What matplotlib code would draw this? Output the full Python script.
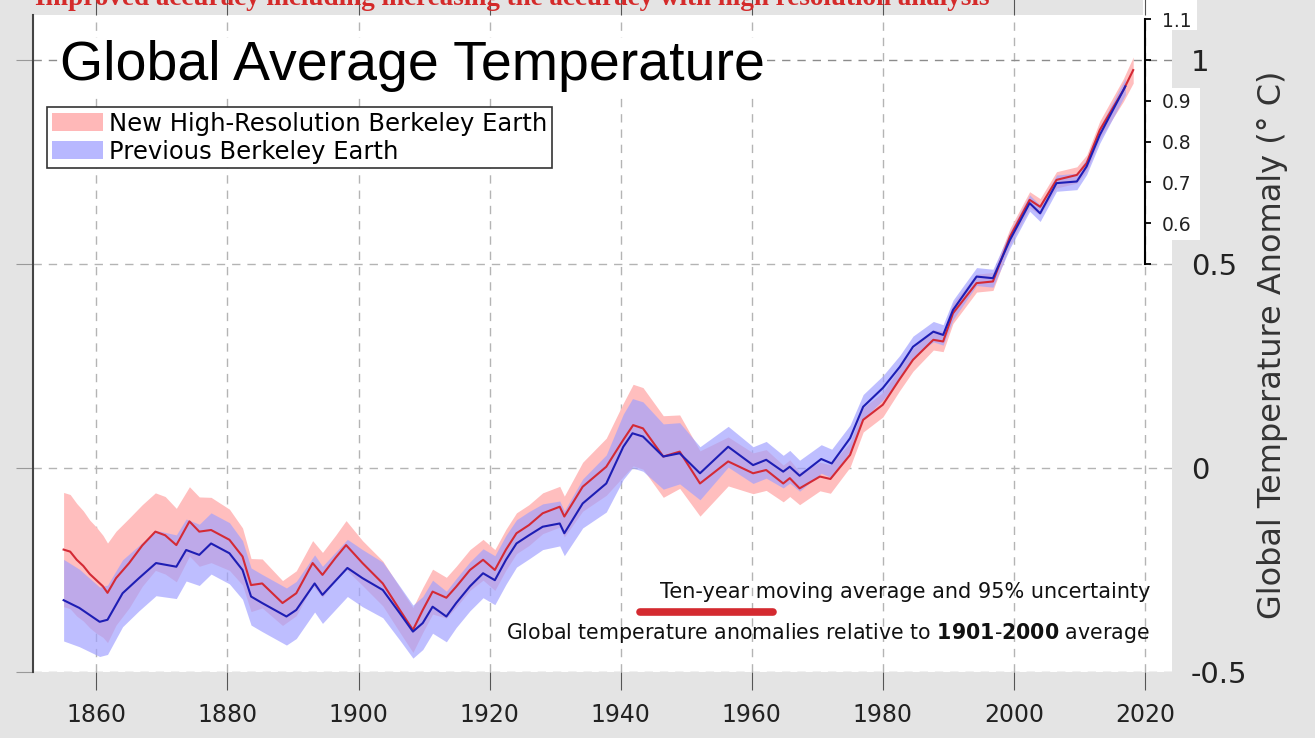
import matplotlib.pyplot as plt
from matplotlib.patches import Patch, Rectangle
from matplotlib.lines import Line2D
import numpy as np

plt.rcParams['axes.unicode_minus'] = False

# ten-year moving average, new high-resolution Berkeley Earth
red_years = [1855.0, 1856.0, 1857.0, 1858.0, 1859.0, 1860.0, 1861.0, 1861.7, 1863.0, 1865.0,
             1867.0, 1869.0, 1870.5, 1872.2, 1874.2, 1875.7, 1877.5, 1880.3, 1882.3, 1883.6,
             1885.3, 1888.4, 1890.5, 1893.0, 1894.5, 1896.5, 1898.1, 1900.6, 1903.7, 1906.3,
             1908.3, 1909.8, 1911.3, 1913.4, 1914.9, 1917.0, 1919.0, 1920.8, 1922.5, 1924.1,
             1926.0, 1928.1, 1930.7, 1931.4, 1934.2, 1937.8, 1940.4, 1941.9, 1943.4, 1946.5,
             1949.0, 1952.1, 1956.4, 1960.2, 1962.2, 1964.8, 1965.8, 1967.3, 1970.4, 1972.0,
             1975.0, 1977.0, 1980.0, 1982.5, 1984.6, 1987.7, 1989.2, 1990.7, 1994.3, 1996.8,
             1999.4, 2002.4, 2004.0, 2006.5, 2009.6, 2011.1, 2013.1, 2016.7, 2018.2]
red_vals = [-0.200, -0.205, -0.225, -0.240, -0.260, -0.275, -0.290, -0.306, -0.270, -0.233,
            -0.190, -0.156, -0.165, -0.189, -0.131, -0.156, -0.152, -0.176, -0.217, -0.287,
            -0.283, -0.331, -0.307, -0.233, -0.262, -0.220, -0.189, -0.233, -0.283, -0.348,
            -0.397, -0.348, -0.303, -0.318, -0.291, -0.250, -0.225, -0.250, -0.200, -0.160,
            -0.140, -0.111, -0.095, -0.119, -0.046, 0.003, 0.069, 0.105, 0.097, 0.028,
            0.040, -0.038, 0.016, -0.013, -0.005, -0.038, -0.025, -0.050, -0.021, -0.027,
            0.032, 0.118, 0.155, 0.216, 0.265, 0.314, 0.310, 0.379, 0.453, 0.457,
            0.567, 0.657, 0.640, 0.706, 0.718, 0.747, 0.828, 0.926, 0.975]
red_unc = [0.140, 0.140, 0.138, 0.135, 0.132, 0.130, 0.125, 0.122, 0.115, 0.110,
           0.100, 0.095, 0.095, 0.090, 0.085, 0.085, 0.080, 0.075, 0.070, 0.065,
           0.060, 0.055, 0.055, 0.055, 0.055, 0.055, 0.060, 0.055, 0.055, 0.055,
           0.055, 0.055, 0.055, 0.050, 0.050, 0.050, 0.050, 0.050, 0.050, 0.050,
           0.050, 0.050, 0.050, 0.050, 0.060, 0.070, 0.090, 0.100, 0.100, 0.100,
           0.090, 0.080, 0.060, 0.050, 0.050, 0.045, 0.045, 0.040, 0.035, 0.035,
           0.030, 0.030, 0.030, 0.028, 0.028, 0.025, 0.025, 0.025, 0.022, 0.022,
           0.020, 0.020, 0.020, 0.020, 0.020, 0.020, 0.022, 0.028, 0.032]

# previous Berkeley Earth
blue_years = [1855.0, 1857.4, 1860.5, 1861.7, 1864.0, 1866.5, 1869.1, 1872.2, 1873.7, 1875.7,
              1877.5, 1880.3, 1882.3, 1883.6, 1885.3, 1889.0, 1890.5, 1893.3, 1894.5, 1898.3,
              1900.6, 1903.7, 1906.3, 1908.3, 1909.8, 1911.3, 1913.4, 1914.9, 1917.0, 1919.0,
              1920.8, 1922.5, 1924.1, 1926.0, 1928.1, 1930.7, 1931.4, 1934.2, 1937.8, 1940.4,
              1941.8, 1943.4, 1946.5, 1949.0, 1952.1, 1956.4, 1960.2, 1962.2, 1964.8, 1965.8,
              1967.3, 1970.6, 1972.2, 1975.0, 1977.0, 1980.0, 1982.6, 1984.6, 1987.7, 1989.2,
              1990.7, 1994.3, 1996.8, 1999.4, 2002.4, 2004.0, 2006.5, 2009.6, 2011.1, 2013.1,
              2017.0]
blue_vals = [-0.324, -0.343, -0.377, -0.372, -0.307, -0.270, -0.233, -0.242, -0.201, -0.213,
             -0.185, -0.209, -0.250, -0.315, -0.331, -0.364, -0.348, -0.283, -0.311, -0.245,
             -0.270, -0.299, -0.356, -0.401, -0.380, -0.340, -0.364, -0.331, -0.290, -0.258,
             -0.275, -0.225, -0.185, -0.165, -0.144, -0.136, -0.160, -0.087, -0.038, 0.052,
             0.085, 0.077, 0.028, 0.036, -0.013, 0.052, 0.007, 0.020, -0.009, 0.003,
             -0.019, 0.022, 0.011, 0.073, 0.150, 0.196, 0.248, 0.297, 0.334, 0.326,
             0.387, 0.469, 0.465, 0.559, 0.649, 0.624, 0.698, 0.702, 0.739, 0.816,
             0.935]
blue_unc = [0.100, 0.095, 0.085, 0.085, 0.082, 0.080, 0.080, 0.078, 0.076, 0.075,
            0.075, 0.075, 0.072, 0.070, 0.070, 0.070, 0.070, 0.070, 0.070, 0.070,
            0.070, 0.068, 0.066, 0.065, 0.065, 0.065, 0.062, 0.060, 0.060, 0.060,
            0.060, 0.060, 0.058, 0.058, 0.056, 0.055, 0.055, 0.060, 0.070, 0.080,
            0.085, 0.085, 0.080, 0.075, 0.065, 0.050, 0.045, 0.045, 0.040, 0.040,
            0.038, 0.035, 0.035, 0.032, 0.030, 0.030, 0.028, 0.026, 0.025, 0.025,
            0.024, 0.022, 0.022, 0.020, 0.020, 0.020, 0.020, 0.020, 0.020, 0.020,
            0.020]

x_ticks = [1860, 1880, 1900, 1920, 1940, 1960, 1980, 2000, 2020]
y_ticks = [-0.5, 0, 0.5, 1]
y_labels = ['-0.5', '0', '0.5', '1']
fine_ticks = [0.5, 0.6, 0.7, 0.8, 0.9, 1.0, 1.1]
fine_labels = ['', '0.6', '0.7', '0.8', '0.9', '', '1.1']

W, H = 1315, 738
fig = plt.figure(figsize=(W / 100, H / 100), dpi=100, facecolor='#e4e4e4')

# white patches behind the small inset labels
fig.add_artist(Rectangle((1158 / W, 1 - 240 / H), 42 / W, 152 / H, transform=fig.transFigure,
                         facecolor='white', edgecolor='none', zorder=-1))
fig.add_artist(Rectangle((1143 / W, 1 - 30 / H), 54 / W, 30 / H, transform=fig.transFigure,
                         facecolor='white', edgecolor='none', zorder=-1))

ax = fig.add_axes([33 / W, 1 - 672 / H, (1172 - 33) / W, (672 - 15) / H])
ax.set_facecolor('white')

ry = np.array(red_vals)
ru = np.array(red_unc)
by = np.array(blue_vals)
bu = np.array(blue_unc)

ax.fill_between(red_years, ry - ru, ry + ru, color='#ffbebe', lw=0, zorder=2)
ax.fill_between(blue_years, by - bu, by + bu, color='#a0a0ff', alpha=0.68, lw=0, zorder=3)
ax.plot(red_years, red_vals, color='#d42a35', lw=1.5, zorder=4)
ax.plot(blue_years, blue_vals, color='#1e1eb4', lw=1.5, zorder=5)

ax.set_xlim(1850.33, 2024.12)
ax.set_ylim(-0.5, 1.11)

for s in ['top', 'right', 'bottom']:
    ax.spines[s].set_visible(False)
ax.spines['left'].set_color('#444444')
ax.spines['left'].set_linewidth(1.5)

ax.set_xticks(x_ticks)
ax.set_xticklabels([str(t) for t in x_ticks])
ax.tick_params(axis='x', length=13, color='#555555', pad=9, labelsize=17,
               labelcolor='#222222', top=True, direction='out')

# finer scale bracket on the 2020 line
ax2 = ax.twinx()
ax2.set_ylim(-0.5, 1.11)
for s in ['top', 'left', 'bottom']:
    ax2.spines[s].set_visible(False)
ax2.spines['right'].set_position(('data', 2020))
ax2.spines['right'].set_bounds(0.5, 1.1)
ax2.spines['right'].set_linewidth(1.5)
ax2.set_yticks(fine_ticks)
ax2.set_yticklabels(fine_labels)
ax2.tick_params(axis='y', length=4, width=1.3, pad=8, labelsize=13.5, labelcolor='#222222')

# main y labels on the right (after twinx, which resets them to the left)
ax.set_yticks(y_ticks)
ax.set_yticklabels(y_labels)
ax.tick_params(axis='y', left=True, right=False, labelleft=False, labelright=True,
               length=12, color='#999999', pad=1.5, labelsize=21, labelcolor='#222222')

ax.grid(True, ls=(0, (6, 5)), color='#b4b4b4', lw=1)
ax.set_axisbelow(True)
ax.get_ygridlines()[3].set_color('#8c8c8c')

# texts
fig.text(35 / W, 1 - 5 / H,
         'Improved accuracy including increasing the accuracy with high resolution analysis',
         family='Liberation Serif', weight='bold', size=19.5, color='#d42a2a', va='baseline')
fig.text(60 / W, 1 - 80 / H, 'Global Average Temperature', family='Liberation Sans',
         size=40, va='baseline', color='black',
         bbox=dict(facecolor='white', edgecolor='none', pad=1))
fig.text(1272 / W, 1 - 345 / H, 'Global Temperature Anomaly (° C)', rotation=90,
         size=23, color='#333333', ha='center', va='center')

fig.text(1150 / W, 1 - 592 / H, 'Ten-year moving average and 95% uncertainty',
         size=15, ha='right', va='center', color='#111111')
fig.text(1150 / W, 1 - 633 / H,
         r'Global temperature anomalies relative to $\mathbf{1901}$-$\mathbf{2000}$ average',
         size=14.8, ha='right', va='center', color='#111111')
fig.add_artist(Line2D([640 / W, 773 / W], [1 - 612 / H, 1 - 612 / H], lw=5.5,
                      color='#d42a30', solid_capstyle='round'))

handles = [Patch(facecolor='#ffb8b8', edgecolor='none'),
           Patch(facecolor='#b8b8ff', edgecolor='none')]
leg = fig.legend(handles, ['New High-Resolution Berkeley Earth', 'Previous Berkeley Earth'],
                 loc='upper left', bbox_to_anchor=(47 / W, 1 - 107 / H), fontsize=17.5,
                 handlelength=2.1, handleheight=0.75, handletextpad=0.25, borderpad=0.2,
                 borderaxespad=0, labelspacing=0.15, fancybox=False, framealpha=1,
                 edgecolor='#333333')
leg.get_frame().set_linewidth(1.2)

fig.savefig('out.png', dpi=100, facecolor=fig.get_facecolor())
